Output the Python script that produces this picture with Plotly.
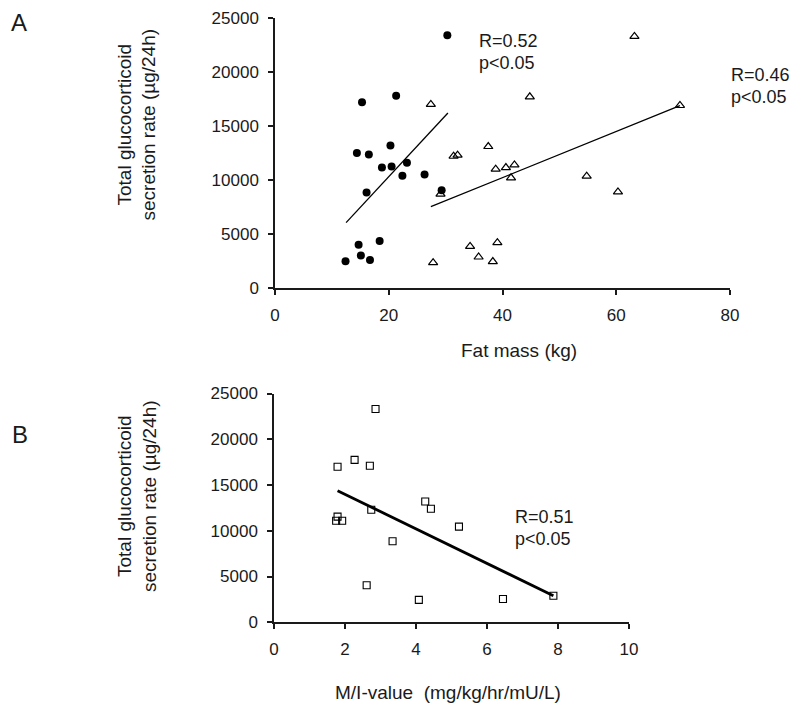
import plotly.graph_objects as go

# ---------------- Data ----------------
# Panel A: fat mass (kg) vs total glucocorticoid secretion rate (µg/24h)
circ_x = [30.3, 15.3, 21.3, 14.4, 16.5, 20.3, 18.8, 20.5, 23.2, 22.4, 26.3, 16.1, 29.3, 18.4, 14.7, 15.1, 16.7, 12.4]
circ_y = [23400, 17200, 17800, 12500, 12350, 13200, 11150, 11250, 11600, 10400, 10500, 8850, 9050, 4350, 4000, 3000, 2600, 2470]

tri_x = [27.4, 63.2, 44.8, 71.2, 37.5, 31.4, 32.1, 38.8, 40.6, 42.1, 41.5, 54.8, 60.3, 29.1, 39.1, 34.3, 35.8, 38.3, 27.8]
tri_y = [17000, 23300, 17700, 16900, 13100, 12200, 12300, 11000, 11150, 11400, 10200, 10350, 8900, 8700, 4200, 3850, 2870, 2450, 2350]

circ_fit_x = [12.5, 30.4]
circ_fit_y = [6050, 16200]
tri_fit_x = [27.4, 71.2]
tri_fit_y = [7530, 16880]

# Panel B: M/I-value vs total glucocorticoid secretion rate
sq_x = [2.86, 1.79, 2.27, 2.70, 1.79, 1.75, 1.92, 2.74, 4.26, 4.42, 5.21, 3.34, 2.61, 4.08, 6.45, 7.87]
sq_y = [23300, 17000, 17750, 17100, 11550, 11100, 11100, 12300, 13200, 12400, 10450, 8850, 4050, 2450, 2550, 2900]

sq_fit_x = [1.79, 7.87]
sq_fit_y = [14380, 2900]

a_xticks = [0, 20, 40, 60, 80]
b_xticks = [0, 2, 4, 6, 8, 10]
yticks = [0, 5000, 10000, 15000, 20000, 25000]

# ---------------- Figure ----------------
W, H = 800, 711
FONT = "Liberation Sans, Arial, sans-serif"
INK = "#1a1a1a"

def px_x(p):
    return p / W

def px_y(p):
    return 1 - p / H

fig = go.Figure()

fig.add_trace(go.Scatter(x=circ_fit_x, y=circ_fit_y, mode="lines",
                         line=dict(color="black", width=1.3),
                         xaxis="x", yaxis="y", showlegend=False, cliponaxis=False))
fig.add_trace(go.Scatter(x=tri_fit_x, y=tri_fit_y, mode="lines",
                         line=dict(color="black", width=1.3),
                         xaxis="x", yaxis="y", showlegend=False, cliponaxis=False))
fig.add_trace(go.Scatter(x=circ_x, y=circ_y, mode="markers",
                         marker=dict(symbol="circle", size=8, color="black"),
                         xaxis="x", yaxis="y", showlegend=False, cliponaxis=False))
fig.add_trace(go.Scatter(x=tri_x, y=tri_y, mode="markers",
                         marker=dict(symbol="triangle-up-open", size=8, color="black",
                                     line=dict(width=1.2, color="black")),
                         xaxis="x", yaxis="y", showlegend=False, cliponaxis=False))

fig.add_trace(go.Scatter(x=sq_fit_x, y=sq_fit_y, mode="lines",
                         line=dict(color="black", width=2.8),
                         xaxis="x2", yaxis="y2", showlegend=False, cliponaxis=False))
fig.add_trace(go.Scatter(x=sq_x, y=sq_y, mode="markers",
                         marker=dict(symbol="square-open", size=7, color="black",
                                     line=dict(width=1.1, color="black")),
                         xaxis="x2", yaxis="y2", showlegend=False, cliponaxis=False))

axis_common = dict(showgrid=False, zeroline=False, showline=True, linecolor=INK,
                   linewidth=1.5, ticks="outside", ticklen=5, tickwidth=1.5,
                   tickcolor=INK, tickfont=dict(family=FONT, size=17, color=INK),
                   mirror=False, fixedrange=True, automargin=False)

fig.update_layout(
    template="none",
    width=W, height=H, autosize=False,
    margin=dict(l=0, r=0, t=0, b=0, pad=0),
    paper_bgcolor="white", plot_bgcolor="white",
    font=dict(family=FONT, color=INK),
    xaxis=dict(domain=[px_x(275), px_x(730)], range=[0, 80], tickvals=a_xticks,
               anchor="y", ticklabelstandoff=6, **axis_common),
    yaxis=dict(domain=[px_y(288), px_y(18)], range=[0, 25000], tickvals=yticks,
               tickformat="d", anchor="x", ticklabelstandoff=6, **axis_common),
    xaxis2=dict(domain=[px_x(274), px_x(629)], range=[0, 10], tickvals=b_xticks,
                anchor="y2", ticklabelstandoff=6, **axis_common),
    yaxis2=dict(domain=[px_y(622.3), px_y(393.5)], range=[0, 25000], tickvals=yticks,
                tickformat="d", anchor="x2", ticklabelstandoff=6, **axis_common),
)

def ann(text, x, y, size, xanchor="center", yanchor="middle", angle=0, align="center"):
    fig.add_annotation(text=text, x=px_x(x), y=px_y(y), xref="paper", yref="paper",
                       showarrow=False, xanchor=xanchor, yanchor=yanchor,
                       textangle=angle, align=align,
                       font=dict(family=FONT, size=size, color=INK))

ytitle = "Total glucocorticoid<br>secretion rate (µg/24h)"
ann(ytitle, 137, 124.5, 19, angle=-90)
ann(ytitle, 137, 496, 19, angle=-90)
ann("Fat mass (kg)", 519, 350, 19)
ann("M/I-value \u00a0(mg/kg/hr/mU/L)", 448, 692, 19)
ann("A", 19, 22, 24)
ann("B", 20, 434, 24)

ann("R=0.52", 477, 41, 18, xanchor="left")
ann("p<0.05", 477, 63, 18, xanchor="left")
ann("R=0.46", 729, 75, 18, xanchor="left")
ann("p<0.05", 729, 97, 18, xanchor="left")
ann("R=0.51", 513, 517, 18, xanchor="left")
ann("p<0.05", 513, 539, 18, xanchor="left")

fig.write_html("out.html",
               config={"displayModeBar": False},
               post_script="document.body.style.margin='0px';"
                           "document.body.style.overflow='hidden';")
